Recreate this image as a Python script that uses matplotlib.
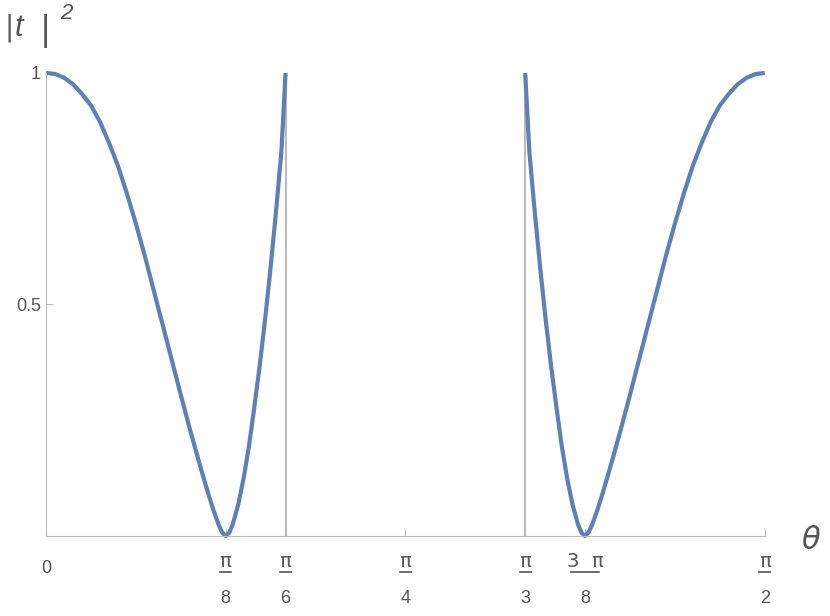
import numpy as np
import matplotlib
matplotlib.use("Agg")
import matplotlib.pyplot as plt
from matplotlib.transforms import blended_transform_factory

# theta as fraction of pi/2, values of |t|^2
u_left = [0, 0.0125, 0.025, 0.0375, 0.05, 0.0625, 0.075, 0.0875, 0.1, 0.1125, 0.125, 0.1375, 0.15,
          0.1625, 0.175, 0.1875, 0.2, 0.2125, 0.225, 0.2325, 0.24, 0.245, 0.25, 0.255, 0.26, 0.2675,
          0.275, 0.2825, 0.29, 0.2975, 0.305, 0.3125, 0.32, 0.3275, 0.3333]
t_left = [1, 0.998, 0.99, 0.976, 0.955, 0.93, 0.895, 0.85, 0.8, 0.74, 0.675, 0.605, 0.53,
          0.455, 0.38, 0.305, 0.232, 0.162, 0.095, 0.058, 0.025, 0.008, 0, 0.007, 0.026, 0.068,
          0.125, 0.195, 0.28, 0.37, 0.47, 0.58, 0.7, 0.83, 1.0]
u_right = [1 - u for u in u_left[::-1]]
t_right = t_left[::-1]

tick_frac = [0.25, 1/3, 0.5, 2/3, 0.75, 1.0]
tick_num = ["π", "π", "π", "π", "3  π", "π"]
tick_den = ["8", "6", "4", "3", "8", "2"]

fig = plt.figure(figsize=(8.3, 6.16), dpi=100)
ax = fig.add_axes([0.0554, 0.1299, 0.866, 0.7516])
half = np.pi / 2
col = "#5e81b5"
ax.plot(np.array(u_left) * half, t_left, color=col, lw=3, clip_on=False, solid_capstyle="butt")
ax.plot(np.array(u_right) * half, t_right, color=col, lw=3, clip_on=False, solid_capstyle="butt")
for f in [1/3, 2/3]:
    ax.plot([f * half, f * half], [0, 1], color="#bbbbbb", lw=1.5, zorder=1)
ax.set_xlim(0, half)
ax.set_ylim(0, 1)
for s in ["top", "right"]:
    ax.spines[s].set_visible(False)
for s in ["left", "bottom"]:
    ax.spines[s].set_color("#bbbbbb")
ax.set_yticks([0.5, 1.0])
ax.set_yticklabels(["0.5", "1"], fontsize=13, family="Liberation Sans")
ax.set_xticks([0] + [f * half for f in tick_frac])
ax.set_xticklabels([])
ax.tick_params(colors="#bbbbbb", labelcolor="#555555", length=5, direction="in")
tr = blended_transform_factory(ax.transData, ax.transAxes)
ax.text(0, -0.07, "0", transform=tr, ha="center", va="center", fontsize=13, color="#555555", family="Liberation Sans")
for f, n, d in zip(tick_frac, tick_num, tick_den):
    x = f * half
    ax.text(x, -0.055, n, transform=tr, ha="center", va="center", fontsize=14, color="#555555", family="DejaVu Sans")
    w = 0.012 if len(n) < 2 else 0.03
    ax.plot([x - w, x + w], [-0.078, -0.078], transform=tr, color="#555555", lw=1.2, clip_on=False)
    ax.text(x, -0.135, d, transform=tr, ha="center", va="center", fontsize=13, color="#555555", family="Liberation Sans")
fig.text(0.006, 0.955, "|", fontsize=20, color="#555555", va="center")
fig.text(0.017, 0.955, "t", fontsize=22, color="#555555", va="center", style="italic", family="Liberation Sans")
fig.text(0.048, 0.95, "|", fontsize=24, color="#555555", va="center")
fig.text(0.072, 0.978, "2", fontsize=16, color="#555555", va="center", style="italic", family="Liberation Sans")
fig.text(0.965, 0.122, "θ", fontsize=22, color="#555555", va="center", style="italic", family="DejaVu Sans")
fig.savefig("out.png", dpi=100)
